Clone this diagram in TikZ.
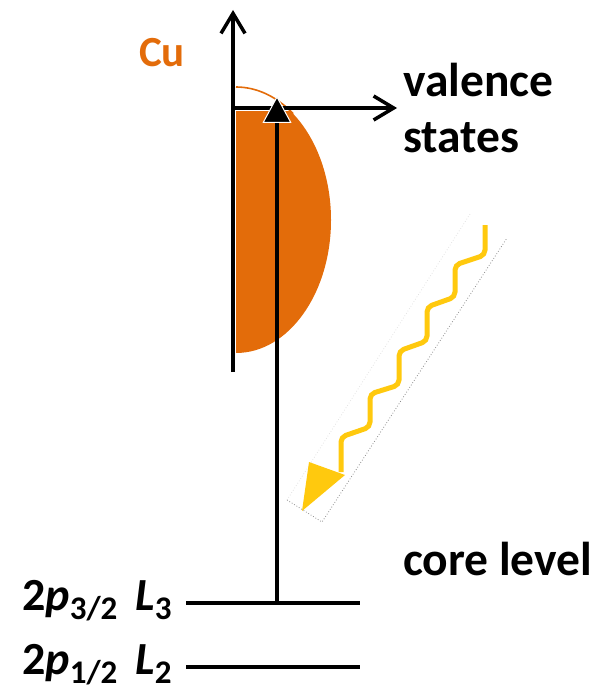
\documentclass[tikz,border=0pt]{standalone}
\usepackage{fontspec}
\setmainfont{Carlito}
\usetikzlibrary{arrows.meta}
\definecolor{cuorange}{HTML}{E36C0A}
\definecolor{photon}{HTML}{FFC90E}
\definecolor{frame}{HTML}{8C8C8C}
\begin{document}
\begin{tikzpicture}[x=1pt,y=-1pt,
  axis/.style={line width=3.5pt,-{Straight Barb[length=20pt,width=24pt,line width=3.5pt]}},
  level/.style={line width=3.5pt},
  excite/.style={line width=3.5pt,-{Triangle[length=27pt,width=29pt,line width=1pt,color=white,fill=black]}},
  wave/.style={photon,line width=5pt,rounded corners=5pt},
  lbl/.style={inner sep=0pt,font=\bfseries\fontsize{47.5}{55}\selectfont},
  lvl/.style={inner sep=0pt,font=\bfseries\fontsize{46}{50}\selectfont},
  sub/.style={},
  dotline/.style={frame,dotted,line width=0.8pt}]
\useasboundingbox (0,0) rectangle (599,690);
% named points
\coordinate (ybot) at (233,372);
\coordinate (ytop) at (233,10);
\coordinate (xstart) at (233,108);
\coordinate (xtip) at (397,108);
\coordinate (L3a) at (186,603);
\coordinate (L3b) at (360,603);
\coordinate (L2a) at (186,667);
\coordinate (L2b) at (360,667);
\coordinate (exbot) at (277,603);
\coordinate (extop) at (277,96);
% Cu density of states
\begin{scope}
  \clip (234,112) rectangle (340,380);
  \fill[cuorange] (236,87) arc[start angle=-90,end angle=90,x radius=95,y radius=133] -- cycle;
\end{scope}
\draw[cuorange,line width=1.6pt] (236,87) arc[start angle=-90,end angle=-53,x radius=95,y radius=133];
% axes
\draw[axis] (ybot) -- (ytop);
\draw[axis] (xstart) -- (xtip);
% levels
\draw[level] (L3a) -- (L3b);
\draw[level] (L2a) -- (L2b);
% excitation
\draw[excite] (exbot) -- (extop);
% photon frame (dotted shadow)
\coordinate (f1) at (470,214);
\coordinate (f2) at (287,500);
\coordinate (f3) at (322,522);
\coordinate (f4) at (507,238);
\draw[dotline,frame!25] (f1) -- (f2);
\draw[dotline] (f2) -- (f3) -- (f4);
% photon
\coordinate (p0) at (485,225);
\coordinate (p1) at (341,472);
\draw[wave] (p0) -- (485,255) -- (455,265) -- (455,297) -- (427,307) -- (427,341) -- (399,351) -- (399,385) -- (370,394) -- (370,427) -- (341,437) -- (p1);
\fill[photon] (309,462) -- (345,475) -- (302,511) -- cycle;
% labels
\node[lbl,text=cuorange,anchor=base west,font=\bfseries\fontsize{43}{50}\selectfont] (cu) at (139,67) {Cu};
\node[lbl,anchor=base west] (val) at (403,97) {valence};
\node[lbl,anchor=base west] (sta) at (403,152) {states};
\node[lbl,anchor=base west] (core) at (403,575) {core level};
\node[lvl,anchor=base west] (l3) at (22,610) {2\textit{p}\raisebox{-9pt}{\fontsize{33}{33}\selectfont 3/2}\hspace{18pt}\textit{L}\raisebox{-9pt}{\fontsize{33}{33}\selectfont 3}};
\node[lvl,anchor=base west] (l2) at (22,674) {2\textit{p}\raisebox{-9pt}{\fontsize{33}{33}\selectfont 1/2}\hspace{18pt}\textit{L}\raisebox{-9pt}{\fontsize{33}{33}\selectfont 2}};
\end{tikzpicture}
\end{document}
